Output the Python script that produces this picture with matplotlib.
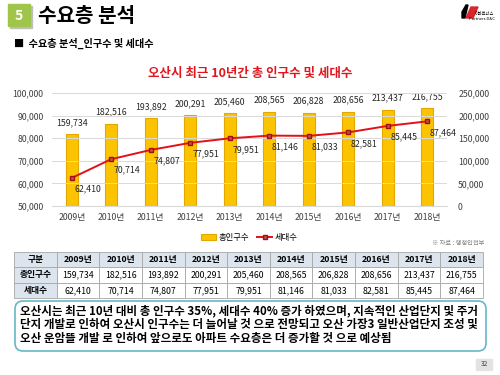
#! /usr/bin/env python
import matplotlib
matplotlib.use("Agg")
import matplotlib.pyplot as plt
from matplotlib.patches import Rectangle, FancyBboxPatch, Polygon
from matplotlib.ticker import FuncFormatter, MultipleLocator

plt.rcParams['font.family'] = ['Noto Sans CJK KR', 'DejaVu Sans']

# data
years = ['2009년', '2010년', '2011년', '2012년', '2013년',
         '2014년', '2015년', '2016년', '2017년', '2018년']
population = [159734, 182516, 193892, 200291, 205460,
              208565, 206828, 208656, 213437, 216755]
households = [62410, 70714, 74807, 77951, 79951,
              81146, 81033, 82581, 85445, 87464]

W, H = 500, 375

def box(x0, y0, x1, y1):
    # pixel box (from top-left) -> figure fraction rect
    return [x0 / W, 1 - y1 / H, (x1 - x0) / W, (y1 - y0) / H]

fig = plt.figure(figsize=(5, 3.75), dpi=100)
fig.patch.set_facecolor('white')

# decoration layer in pixel coords
deco = fig.add_axes([0, 0, 1, 1])
deco.set_xlim(0, W)
deco.set_ylim(H, 0)
deco.axis('off')

# header
deco.add_patch(Rectangle((10, 6), 22, 22, color='#bfbfbf', zorder=1))
deco.add_patch(Rectangle((8, 4), 22, 22, color='#9fc54a', zorder=2))
deco.text(19, 15.5, '5', color='white', fontsize=10, fontweight='bold',
          ha='center', va='center', zorder=3)
deco.text(38, 16, '수요층 분석', fontsize=14.5, fontweight='bold',
          ha='left', va='center')
deco.text(14, 43, '■  수요층 분석_인구수 및 세대수', fontsize=7.3,
          fontweight='bold', ha='left', va='center')

# little logo
deco.add_patch(Polygon([(462, 12), (466, 5), (468, 5), (465, 18), (462, 18)],
                       color='black'))
deco.add_patch(Polygon([(466, 18), (471, 7), (474, 7), (469, 18)], color='#d7262c'))
deco.add_patch(Polygon([(470, 18), (475, 7), (478, 7), (473, 18)], color='#d7262c'))
deco.text(484, 14, '이파트너스', fontsize=3, ha='center', va='center')
deco.text(482, 19.5, 'Partners D&C', fontsize=3, ha='center', va='center')

# chart title
deco.text(250, 73, '오산시 최근 10년간 총 인구수 및 세대수', fontsize=9,
          fontweight='bold', color='#e0161e', ha='center', va='center')

# chart: bars on the right axis, line on the left axis
ax = fig.add_axes(box(52, 93, 447, 206))
ax2 = ax.twinx()
x = range(len(years))

bars = ax.bar(x, population, width=0.3, color='#fcc400', edgecolor='#e3a800',
              linewidth=0.8, label='총인구수', zorder=2)
ax.set_ylim(0, 250000)
ax.set_xlim(-0.5, len(years) - 0.5)
ax.yaxis.set_major_locator(MultipleLocator(50000))
ax.yaxis.tick_right()
ax.yaxis.set_major_formatter(FuncFormatter(lambda v, p: '{:,.0f}'.format(v)))
for b, v in zip(bars, population):
    ax.annotate('{:,}'.format(v), (b.get_x() + b.get_width() / 2, v),
                xytext=(0, 5), textcoords='offset points', ha='center',
                va='bottom', fontsize=6.3, color='#262626')

line, = ax2.plot(x, households, color='#e3101a', linewidth=1.4,
                 marker='s', markersize=2.2, markerfacecolor='#c0504d',
                 markeredgecolor='#a01010', label='세대수', zorder=3)
ax2.set_ylim(50000, 100000)
ax2.yaxis.set_major_locator(MultipleLocator(10000))
ax2.yaxis.tick_left()
ax2.yaxis.set_major_formatter(FuncFormatter(lambda v, p: '{:,.0f}'.format(v)))
for i, v in enumerate(households):
    ax2.annotate('{:,}'.format(v), (i, v), xytext=(2, -8),
                 textcoords='offset points', ha='left', va='center',
                 fontsize=6.3, color='#262626')

ax2.grid(axis='y', color='#d9d9d9', linewidth=0.7)
ax2.set_axisbelow(True)
ax.set_xticks(list(x))
ax.set_xticklabels(years, fontsize=6.3, color='#404040')
for a in (ax, ax2):
    for s in a.spines.values():
        s.set_visible(False)
    a.tick_params(axis='both', length=0, labelsize=6.3, labelcolor='#404040')
ax.tick_params(axis='x', pad=5)
ax.tick_params(axis='y', pad=8)
ax2.tick_params(axis='y', pad=6)
ax.spines['bottom'].set_visible(True)
ax.spines['bottom'].set_color('#d9d9d9')

ax.legend([bars, line], ['총인구수', '세대수'], loc='upper center',
          bbox_to_anchor=(0.5, -0.17), ncol=2, frameon=False, fontsize=6,
          handlelength=1.8, handletextpad=0.3, columnspacing=1.0)

# source note
deco.text(484, 243, '※ 자료 : 행정안전부', fontsize=4.5, color='#808080',
          ha='right', va='center')

# table
tab_ax = fig.add_axes(box(14, 252, 483, 298))
tab_ax.axis('off')
cell_text = [['구분'] + years,
             ['총인구수'] + ['{:,}'.format(v) for v in population],
             ['세대수'] + ['{:,}'.format(v) for v in households]]
tbl = tab_ax.table(cellText=cell_text, cellLoc='center', bbox=[0, 0, 1, 1])
tbl.auto_set_font_size(False)
for (r, c), cell in tbl.get_celld().items():
    cell.set_edgecolor('#a6a6a6')
    cell.set_linewidth(0.6)
    cell.get_text().set_fontsize(6.3)
    cell.get_text().set_fontweight('bold' if (r == 0 or c == 0) else 'normal')
    if r == 0 or c == 0:
        cell.set_facecolor('#dce4ee')

# comment box
deco.add_patch(FancyBboxPatch((15, 301), 471, 50,
                              boxstyle='round,pad=0,rounding_size=8',
                              facecolor='white', edgecolor='#67b7c7',
                              linewidth=1.2))
comment = ['오산시는 최근 10년 대비 총 인구수 35%, 세대수 40% 증가 하였으며, 지속적인 산업단지 및 주거',
           '단지 개발로 인하여 오산시 인구수는 더 늘어날 것 으로 전망되고 오산 가장3 일반산업단지 조성 및',
           '오산 운암뜰 개발 로 인하여 앞으로도 아파트 수요층은 더 증가할 것 으로 예상됨']
for i, t in enumerate(comment):
    deco.text(20, 311 + i * 13.5, t, fontsize=8.3, fontweight='bold',
              ha='left', va='center')

# page number
deco.add_patch(Rectangle((476, 359), 16, 11, color='#e3e3e3'))
deco.text(484, 364.5, '32', fontsize=4.8, ha='center', va='center', color='#404040')

fig.savefig('out.png', dpi=100, facecolor='white')
